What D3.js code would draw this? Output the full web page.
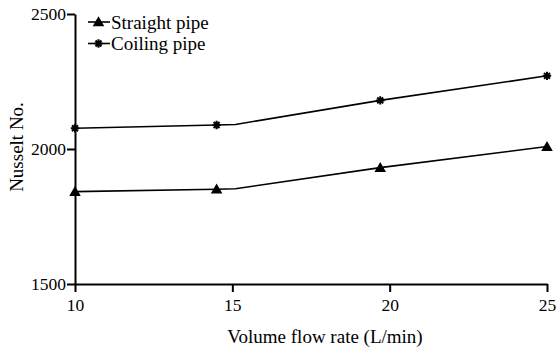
<!DOCTYPE html>
<html>
<head>
<meta charset="utf-8">
<script src="https://cdn.jsdelivr.net/npm/d3@7"></script>
<style>
  html, body { margin: 0; padding: 0; background: #fff; }
  svg { display: block; font-family: "Liberation Serif", "Times New Roman", serif; }
</style>
</head>
<body>
<svg id="chart" width="557" height="349"></svg>
<script>
// Nusselt number versus volume flow rate for two pipe geometries
const flowRate   = [10, 14.5, 19.7, 25];        // L/min, marker positions
const straightNu = [1842, 1851, 1931, 2009];
const coilingNu  = [2077, 2089, 2180, 2271];
// the drawn polyline bends just past 15 L/min, holding the previous level
const bendFlow   = 15.1;
const straightBendNu = 1853;
const coilingBendNu  = 2091;

const xTicks = [10, 15, 20, 25];
const yTicks = [1500, 2000, 2500];
const seriesNames = ["Straight pipe", "Coiling pipe"];

const svg = d3.select("#chart");
const x = d3.scaleLinear().domain([10, 25]).range([75, 547]);
const y = d3.scaleLinear().domain([1500, 2500]).range([284, 14]);

// axes
const xAxis = svg.append("g")
  .attr("transform", `translate(0,${y(1500)})`)
  .call(d3.axisBottom(x).tickValues(xTicks).tickFormat(d3.format("d"))
    .tickSize(8).tickSizeOuter(0).tickPadding(7));
const yAxis = svg.append("g")
  .attr("transform", `translate(${x(10)},0)`)
  .call(d3.axisLeft(y).tickValues(yTicks).tickFormat(d3.format("d"))
    .tickSize(8).tickSizeOuter(0).tickPadding(1));
[xAxis, yAxis].forEach(g => {
  g.select(".domain").attr("stroke", "#000").attr("stroke-width", 2);
  g.selectAll(".tick line").attr("stroke", "#000").attr("stroke-width", 2);
  g.selectAll(".tick text").attr("fill", "#000")
    .style("font-family", "'Liberation Serif', serif").style("font-size", "17.5px");
});

// axis titles
svg.append("text")
  .attr("x", 325).attr("y", 343)
  .attr("text-anchor", "middle")
  .style("font-size", "19px")
  .text("Volume flow rate (L/min)");
svg.append("text")
  .attr("transform", `translate(23,${y(2000) - 2}) rotate(-90)`)
  .attr("text-anchor", "middle")
  .style("font-size", "19px")
  .text("Nusselt No.");

// marker shapes
const triangle = d3.symbol().type(d3.symbolTriangle).size(58)();
function asteriskPath(r) {
  let p = "";
  for (let k = 0; k < 4; k++) {
    const a = k * Math.PI / 4 + Math.PI / 2;
    const dx = r * Math.cos(a), dy = r * Math.sin(a);
    p += `M${dx},${dy}L${-dx},${-dy}`;
  }
  return p;
}
const asterisk = asteriskPath(4.2);

function pathPoints(values, bendValue) {
  const pts = flowRate.map((f, i) => [f, values[i]]);
  pts.splice(2, 0, [bendFlow, bendValue]);
  return pts;
}

const line = d3.line().x(d => x(d[0])).y(d => y(d[1]));

const series = [
  { name: seriesNames[0], values: straightNu, bend: straightBendNu, marker: "tri" },
  { name: seriesNames[1], values: coilingNu,  bend: coilingBendNu,  marker: "ast" }
];

function drawMarker(g, kind, cx, cy) {
  if (kind === "tri") {
    g.append("path").attr("d", triangle)
      .attr("transform", `translate(${cx},${cy + 1})`)
      .attr("fill", "#000");
  } else {
    g.append("path").attr("d", asterisk)
      .attr("transform", `translate(${cx},${cy})`)
      .attr("stroke", "#000").attr("stroke-width", 2).attr("fill", "none");
  }
}

series.forEach(s => {
  svg.append("path")
    .datum(pathPoints(s.values, s.bend))
    .attr("d", line)
    .attr("fill", "none")
    .attr("stroke", "#000")
    .attr("stroke-width", 1.6);
  const g = svg.append("g");
  flowRate.forEach((f, i) => drawMarker(g, s.marker, x(f), y(s.values[i])));
});

// legend
const legend = svg.append("g");
series.forEach((s, i) => {
  const ly = 22 + i * 21.5;
  legend.append("line")
    .attr("x1", 88).attr("x2", 110).attr("y1", ly).attr("y2", ly)
    .attr("stroke", "#000").attr("stroke-width", 1.6);
  drawMarker(legend, s.marker, 98.5, ly);
  legend.append("text")
    .attr("x", 111).attr("y", ly + 6.5)
    .style("font-size", "19px")
    .text(s.name);
});
</script>
</body>
</html>
